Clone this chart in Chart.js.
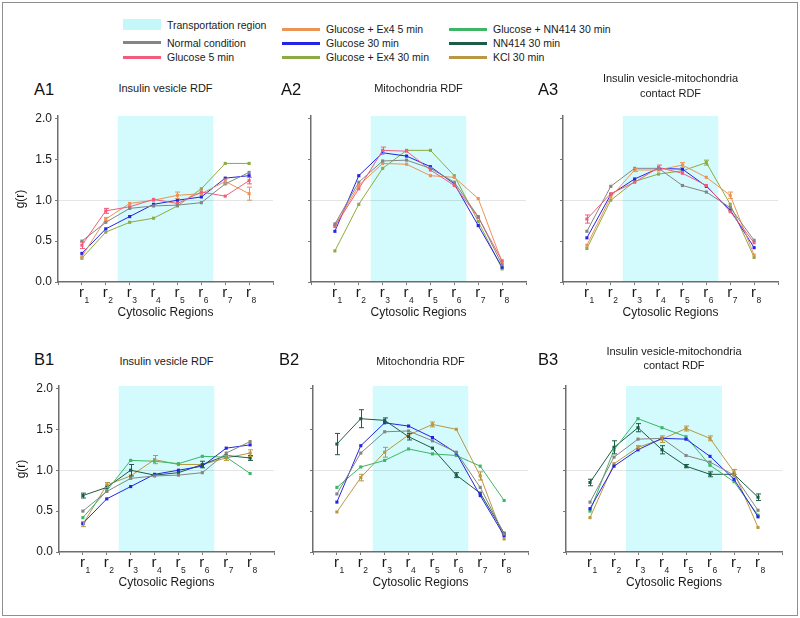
<!DOCTYPE html>
<html><head><meta charset="utf-8">
<script src="https://cdn.jsdelivr.net/npm/chart.js@4.4.1/dist/chart.umd.min.js"></script>
<style>
body{margin:0;background:#fff;font-family:"Liberation Sans",Arial,sans-serif;color:#1a1a1a}
#wrap{position:relative;width:800px;height:618px;overflow:hidden;background:#fff}
.abs{position:absolute;white-space:nowrap}
canvas{position:absolute}
</style></head><body><div id="wrap"></div>
<script>
// ---------------- data ----------------
const regionIdx = [1, 2, 3, 4, 5, 6, 7, 8];          // r1 ... r8
const yTickValues = [0, 0.5, 1.0, 1.5, 2.0];
const transportRegion = [2.5, 6.5];

// A1 Insulin vesicle RDF
const a1Normal = [0.50, 0.73, 0.90, 0.93, 0.94, 0.97, 1.20, 1.34];
const a1Glu5   = [0.45, 0.87, 0.92, 1.01, 0.96, 1.10, 1.05, 1.24];
const a1Ex4_5  = [0.31, 0.77, 0.96, 1.00, 1.06, 1.08, 1.23, 1.08];
const a1Glu30  = [0.35, 0.65, 0.80, 0.95, 1.00, 1.04, 1.27, 1.30];
const a1Ex4_30 = [0.29, 0.61, 0.73, 0.78, 0.93, 1.14, 1.45, 1.45];
const a1Glu5Err  = [0.04, 0.03, 0, 0, 0, 0, 0, 0.04];
const a1Ex4_5Err = [0, 0.02, 0, 0, 0.04, 0, 0.03, 0.08];

// A2 Mitochondria RDF
const a2Normal = [0.71, 1.22, 1.48, 1.49, 1.39, 1.22, 0.80, 0.21];
const a2Glu5   = [0.68, 1.14, 1.61, 1.60, 1.37, 1.18, 0.79, 0.26];
const a2Ex4_5  = [0.69, 1.18, 1.45, 1.44, 1.30, 1.28, 1.02, 0.24];
const a2Glu30  = [0.62, 1.30, 1.58, 1.54, 1.41, 1.20, 0.69, 0.18];
const a2Ex4_30 = [0.38, 0.95, 1.39, 1.61, 1.61, 1.30, 0.74, 0.16];
const a2Glu5Err = [0, 0, 0.04, 0, 0, 0, 0, 0];

// A3 Insulin vesicle-mitochondria contact RDF
const a3Normal = [0.62, 1.17, 1.39, 1.39, 1.18, 1.10, 0.91, 0.51];
const a3Glu5   = [0.77, 1.08, 1.22, 1.40, 1.33, 1.18, 0.86, 0.48];
const a3Ex4_5  = [0.45, 1.04, 1.37, 1.37, 1.43, 1.28, 1.06, 0.33];
const a3Glu30  = [0.54, 1.07, 1.26, 1.39, 1.38, 1.17, 0.88, 0.42];
const a3Ex4_30 = [0.41, 1.00, 1.23, 1.32, 1.36, 1.46, 0.95, 0.30];
const a3Glu5Err   = [0.05, 0, 0, 0.03, 0, 0, 0, 0];
const a3Ex4_5Err  = [0, 0, 0.02, 0, 0.03, 0, 0.04, 0];
const a3Ex4_30Err = [0, 0, 0, 0, 0, 0.03, 0, 0];

// B1 Insulin vesicle RDF
const b1Normal = [0.50, 0.74, 0.90, 0.93, 0.94, 0.97, 1.21, 1.35];
const b1Glu30  = [0.35, 0.65, 0.80, 0.95, 1.00, 1.05, 1.27, 1.31];
const b1GluNN  = [0.42, 0.75, 1.12, 1.11, 1.08, 1.17, 1.16, 0.96];
const b1NN414  = [0.69, 0.79, 1.00, 0.94, 0.97, 1.07, 1.18, 1.15];
const b1KCl    = [0.34, 0.82, 0.93, 1.13, 1.07, 1.07, 1.15, 1.21];
const b1NN414Err = [0.03, 0, 0.07, 0, 0, 0.04, 0, 0.03];
const b1KClErr   = [0.03, 0.03, 0, 0.05, 0, 0, 0.03, 0.04];

// B2 Mitochondria RDF
const b2Normal = [0.71, 1.21, 1.47, 1.48, 1.36, 1.22, 0.79, 0.22];
const b2Glu30  = [0.61, 1.30, 1.58, 1.54, 1.40, 1.21, 0.69, 0.20];
const b2GluNN  = [0.79, 1.04, 1.12, 1.26, 1.20, 1.18, 1.05, 0.63];
const b2NN414  = [1.32, 1.63, 1.61, 1.41, 1.27, 0.94, 0.72, 0.23];
const b2KCl    = [0.49, 0.91, 1.22, 1.43, 1.56, 1.50, 0.93, 0.16];
const b2NN414Err = [0.13, 0.11, 0.03, 0.04, 0, 0.03, 0, 0];
const b2KClErr   = [0, 0.04, 0.06, 0, 0.03, 0, 0.05, 0];

// B3 Insulin vesicle-mitochondria contact RDF
const b3Normal = [0.61, 1.16, 1.38, 1.39, 1.18, 1.10, 0.94, 0.51];
const b3Glu30  = [0.53, 1.05, 1.25, 1.39, 1.38, 1.17, 0.89, 0.43];
const b3GluNN  = [0.50, 1.25, 1.63, 1.52, 1.41, 1.06, 0.86, 0.45];
const b3NN414  = [0.85, 1.28, 1.52, 1.25, 1.05, 0.95, 0.95, 0.67];
const b3KCl    = [0.42, 1.08, 1.28, 1.38, 1.51, 1.39, 0.98, 0.30];
const b3NN414Err = [0.04, 0.08, 0.05, 0.05, 0.02, 0.03, 0, 0.04];
const b3KClErr   = [0, 0, 0.02, 0.04, 0.03, 0.03, 0.03, 0];

// ---------------- styles ----------------
const C = {
  region: '#d3fafc', regionLegend: '#c4f7f9',
  normal: '#858585', glu5: '#f45c7c', ex4_5: '#ec9455', glu30: '#2424e6',
  ex4_30: '#8cab43', gluNN: '#3db765', nn414: '#1d5c47', kcl: '#b99844'
};
const FONT = '"Liberation Sans", Arial, sans-serif';

const wrap = document.getElementById('wrap');
function addDiv(text, css) {
  const d = document.createElement('div');
  d.className = 'abs';
  d.textContent = text;
  Object.assign(d.style, css);
  wrap.appendChild(d);
  return d;
}
// outer frame
addDiv('', {left: '2px', top: '2px', width: '796px', height: '614px', border: '1px solid #8f8f8f', boxSizing: 'border-box'});

// ---------------- legend ----------------
const legendItems = [
  {label: 'Transportation region', color: C.regionLegend, swatch: true, x: 123, tx: 167, y: 24.5},
  {label: 'Normal condition', color: C.normal, x: 123, tx: 167, y: 42.5},
  {label: 'Glucose 5 min', color: C.glu5, x: 123, tx: 167, y: 57},
  {label: 'Glucose + Ex4 5 min', color: C.ex4_5, x: 282, tx: 326, y: 29},
  {label: 'Glucose 30 min', color: C.glu30, x: 282, tx: 326, y: 43},
  {label: 'Glucose + Ex4 30 min', color: C.ex4_30, x: 282, tx: 326, y: 57},
  {label: 'Glucose + NN414 30 min', color: C.gluNN, x: 449, tx: 493, y: 29},
  {label: 'NN414 30 min', color: C.nn414, x: 449, tx: 493, y: 43},
  {label: 'KCl 30 min', color: C.kcl, x: 449, tx: 493, y: 57}
];
legendItems.forEach(it => {
  if (it.swatch) {
    addDiv('', {left: it.x + 'px', top: (it.y - 5.5) + 'px', width: '38px', height: '11px', background: it.color});
  } else {
    addDiv('', {left: it.x + 'px', top: (it.y - 1.5) + 'px', width: '38px', height: '3px', background: it.color});
  }
  addDiv(it.label, {left: it.tx + 'px', top: (it.y - 7) + 'px', height: '14px', lineHeight: '14px', fontSize: '10.5px', color: '#1a1a1a'});
});

// ---------------- panels ----------------
const seriesA = (n, g5, e5, g30, e30, errs) => [
  {label: 'Normal condition', color: C.normal, values: n},
  {label: 'Glucose 5 min', color: C.glu5, values: g5, errors: errs.g5},
  {label: 'Glucose + Ex4 5 min', color: C.ex4_5, values: e5, errors: errs.e5},
  {label: 'Glucose 30 min', color: C.glu30, values: g30},
  {label: 'Glucose + Ex4 30 min', color: C.ex4_30, values: e30, errors: errs.e30}
];
const seriesB = (n, g30, gnn, nn, k, errs) => [
  {label: 'Normal condition', color: C.normal, values: n},
  {label: 'Glucose 30 min', color: C.glu30, values: g30},
  {label: 'Glucose + NN414 30 min', color: C.gluNN, values: gnn},
  {label: 'NN414 30 min', color: C.nn414, values: nn, errors: errs.nn},
  {label: 'KCl 30 min', color: C.kcl, values: k, errors: errs.k}
];

const panels = [
  {id: 'A1', lx: 34, ly: 81, title: ['Insulin vesicle RDF'], ty: [88], axisX: 58, right: 273, top: 116, bottom: 282, showY: true,
   series: seriesA(a1Normal, a1Glu5, a1Ex4_5, a1Glu30, a1Ex4_30, {g5: a1Glu5Err, e5: a1Ex4_5Err})},
  {id: 'A2', lx: 281, ly: 81, title: ['Mitochondria RDF'], ty: [88], axisX: 311, right: 526, top: 116, bottom: 282, showY: false,
   series: seriesA(a2Normal, a2Glu5, a2Ex4_5, a2Glu30, a2Ex4_30, {g5: a2Glu5Err})},
  {id: 'A3', lx: 538, ly: 81, title: ['Insulin vesicle-mitochondria', 'contact RDF'], ty: [77.5, 92.5], axisX: 563, right: 778, top: 116, bottom: 282, showY: false,
   series: seriesA(a3Normal, a3Glu5, a3Ex4_5, a3Glu30, a3Ex4_30, {g5: a3Glu5Err, e5: a3Ex4_5Err, e30: a3Ex4_30Err})},
  {id: 'B1', lx: 34, ly: 351, title: ['Insulin vesicle RDF'], ty: [361], axisX: 59, right: 274, top: 386, bottom: 552, showY: true,
   series: seriesB(b1Normal, b1Glu30, b1GluNN, b1NN414, b1KCl, {nn: b1NN414Err, k: b1KClErr})},
  {id: 'B2', lx: 279, ly: 351, title: ['Mitochondria RDF'], ty: [361], axisX: 313, right: 528, top: 386, bottom: 552, showY: false,
   series: seriesB(b2Normal, b2Glu30, b2GluNN, b2NN414, b2KCl, {nn: b2NN414Err, k: b2KClErr})},
  {id: 'B3', lx: 538, ly: 351, title: ['Insulin vesicle-mitochondria', 'contact RDF'], ty: [350.5, 364.5], axisX: 566, right: 782, top: 386, bottom: 552, showY: false,
   series: seriesB(b3Normal, b3Glu30, b3GluNN, b3NN414, b3KCl, {nn: b3NN414Err, k: b3KClErr})}
];

const PAD_TOP = 8, PAD_RIGHT = 6, Y_W = 45, X_H = 38;

const panelPlugin = {
  id: 'panelDecor',
  beforeDraw(chart) {
    const {ctx, chartArea: a, scales: {x, y}} = chart;
    ctx.save();
    const x0 = x.getPixelForValue(transportRegion[0]);
    const x1 = x.getPixelForValue(transportRegion[1]);
    ctx.fillStyle = C.region;
    ctx.fillRect(x0, a.top, x1 - x0, a.bottom - a.top);
    const y1 = Math.round(y.getPixelForValue(1.0)) + 0.5;
    ctx.strokeStyle = 'rgba(0,0,0,0.10)';
    ctx.lineWidth = 1;
    ctx.beginPath(); ctx.moveTo(a.left, y1); ctx.lineTo(a.right, y1); ctx.stroke();
    ctx.restore();
  },
  afterDatasetsDraw(chart) {
    const {ctx, scales: {y}} = chart;
    ctx.save();
    chart.data.datasets.forEach((ds, i) => {
      if (!ds.errors) return;
      const meta = chart.getDatasetMeta(i);
      ctx.strokeStyle = ds.borderColor;
      ctx.lineWidth = 1;
      ds.errors.forEach((e, j) => {
        if (!e) return;
        const pt = meta.data[j];
        const v = ds.data[j].y;
        const yt = y.getPixelForValue(v + e), yb = y.getPixelForValue(v - e);
        const px = Math.round(pt.x) + 0.5;
        ctx.beginPath();
        ctx.moveTo(px, yt); ctx.lineTo(px, yb);
        ctx.moveTo(px - 2.5, yt); ctx.lineTo(px + 2.5, yt);
        ctx.moveTo(px - 2.5, yb); ctx.lineTo(px + 2.5, yb);
        ctx.stroke();
      });
    });
    ctx.restore();
  },
  afterDraw(chart) {
    const {ctx, chartArea: a, scales: {x}} = chart;
    ctx.save();
    ctx.fillStyle = '#1a1a1a';
    ctx.textBaseline = 'alphabetic';
    regionIdx.forEach(i => {
      const px = x.getPixelForValue(i);
      ctx.font = '15px ' + FONT;
      ctx.textAlign = 'center';
      ctx.fillText('r', px - 0.5, a.bottom + 15);
      ctx.font = '8.5px ' + FONT;
      ctx.textAlign = 'left';
      ctx.fillText(String(i), px + 2.5, a.bottom + 20.5);
    });
    ctx.restore();
  }
};

panels.forEach(p => {
  const cw = (p.right - p.axisX) + Y_W + PAD_RIGHT;
  const ch = (p.bottom - p.top) + PAD_TOP + X_H;
  const cv = document.createElement('canvas');
  cv.width = cw; cv.height = ch;
  cv.style.left = (p.axisX - Y_W) + 'px';
  cv.style.top = (p.top - PAD_TOP) + 'px';
  cv.style.width = cw + 'px'; cv.style.height = ch + 'px';
  wrap.appendChild(cv);

  addDiv(p.id, {left: p.lx + 'px', top: p.ly + 'px', fontSize: '16.5px', lineHeight: '16px', color: '#111'});
  p.title.forEach((t, k) => {
    addDiv(t, {left: p.axisX + 'px', width: (p.right - p.axisX) + 'px', textAlign: 'center', top: (p.ty[k] - 7) + 'px', height: '14px', lineHeight: '14px', fontSize: '11px', color: '#1a1a1a'});
  });

  new Chart(cv, {
    type: 'line',
    data: {
      datasets: p.series.map(s => ({
        label: s.label,
        data: s.values.map((v, i) => ({x: regionIdx[i], y: v})),
        errors: s.errors,
        borderColor: s.color,
        backgroundColor: s.color,
        borderWidth: 1,
        pointStyle: 'rect',
        pointRadius: 2.2,
        pointBorderWidth: 0,
        tension: 0
      }))
    },
    options: {
      responsive: false, animation: false, devicePixelRatio: 1,
      layout: {padding: {top: PAD_TOP, right: PAD_RIGHT, left: 0, bottom: 0}},
      plugins: {legend: {display: false}, tooltip: {enabled: false}},
      scales: {
        x: {
          type: 'linear', min: 0, max: 9,
          ticks: {stepSize: 1, display: false},
          grid: {drawOnChartArea: false, drawTicks: true, tickLength: 3, color: '#7a7a7a'},
          border: {display: true, color: '#6e6e6e', width: 1.5},
          title: {display: true, text: 'Cytosolic Regions', font: {size: 12, family: FONT}, color: '#1a1a1a', padding: 0},
          afterFit(s) { s.height = X_H; s.paddingLeft = 0; s.paddingRight = 0; }
        },
        y: {
          type: 'linear', min: 0, max: 2.03,
          ticks: {stepSize: 0.5, display: p.showY, padding: 3, color: '#1a1a1a', font: {size: 12, family: FONT},
                  callback: v => v.toFixed(1)},
          afterBuildTicks(s) { s.ticks = yTickValues.map(v => ({value: v})); },
          grid: {drawOnChartArea: false, drawTicks: true, tickLength: 3, color: '#7a7a7a'},
          border: {display: true, color: '#6e6e6e', width: 1.5},
          title: {display: p.showY, text: 'g(r)', font: {size: 12, family: FONT}, color: '#1a1a1a', padding: 0},
          afterFit(s) { s.width = Y_W; s.paddingTop = 0; s.paddingBottom = 0; }
        }
      }
    },
    plugins: [panelPlugin]
  });
});
</script>
</body></html>
